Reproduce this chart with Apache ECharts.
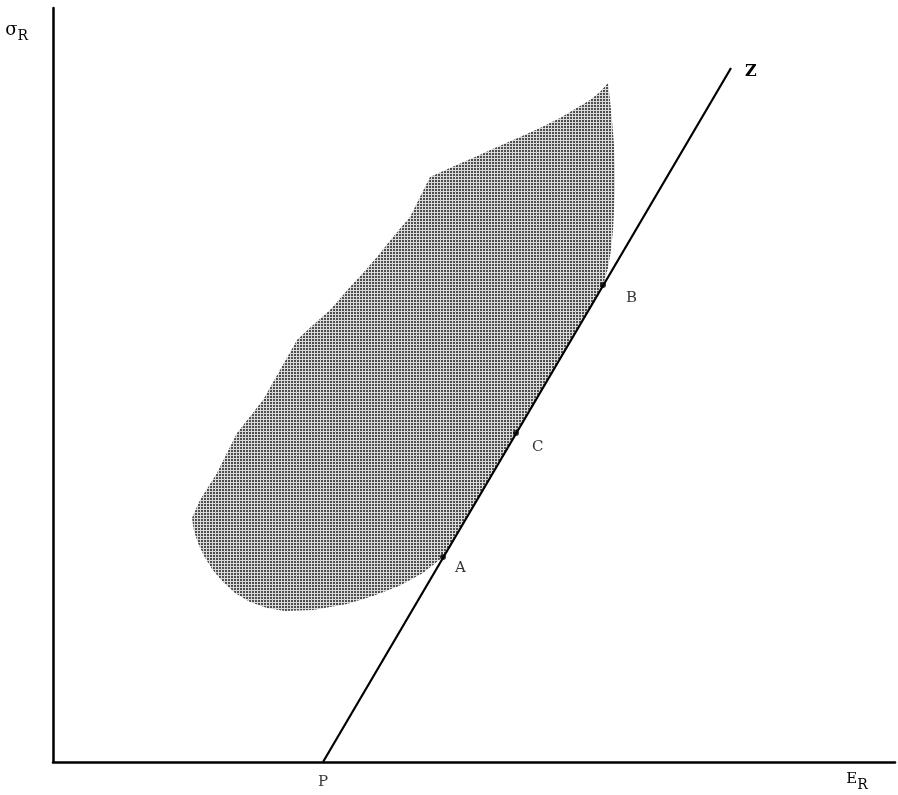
<!DOCTYPE html>
<html>
<head>
<meta charset="utf-8">
<script src="https://cdn.jsdelivr.net/npm/echarts@6/dist/echarts.min.js"></script>
<style>
  html, body { margin: 0; padding: 0; background: #fff; }
  #chart { width: 898px; height: 795px; }
</style>
</head>
<body>
<div id="chart"></div>
<script>
// feasible region outline (E_R, sigma_R), going round from A via B
var regionX = [39.0, 55.0, 55.5, 55.8, 56.0, 56.1, 56.2, 56.2, 56.1, 55.9, 55.7, 55.5,
	54.7, 53.7, 52.2, 50.7, 48.7, 46.7, 44.4, 42.2, 39.9, 37.7,
	36.7, 35.7, 34.0, 32.4, 31.0, 29.7, 27.7, 26.0, 24.4, 22.7, 21.0, 18.4, 16.4, 14.7, 13.9,
	14.1, 14.5, 15.1, 15.9, 16.9, 18.2, 19.7, 21.4, 23.2, 26.0, 29.4, 32.0, 34.6, 37.0];
var regionY = [20.5, 47.7, 49.4, 51.2, 53.2, 55.2, 57.2, 59.2, 61.7, 64.2, 66.2, 67.9,
	67.0, 66.2, 65.3, 64.4, 63.4, 62.5, 61.5, 60.5, 59.5, 58.5,
	56.5, 54.5, 52.5, 50.5, 48.9, 47.5, 45.2, 43.7, 42.2, 39.2, 36.2, 32.9, 28.9, 26.2, 24.4,
	23.1, 21.9, 20.6, 19.3, 18.1, 16.9, 16.0, 15.4, 15.1, 15.2, 15.8, 16.6, 17.6, 18.9];

// line PZ
var lineX = [27.0, 67.8];
var lineY = [0, 69.4];

// marked points on the line
var pointNames = ['A', 'C', 'B'];
var pointX = [39.0, 46.3, 55.0];
var pointY = [20.5, 32.9, 47.7];

var xMax = 84.2;
var yMax = 75.4;

var font = '"DejaVu Serif", "Liberation Serif", serif';

// halftone-like fill
function makeDots() {
	var c = document.createElement('canvas');
	c.width = 3; c.height = 3;
	var ctx = c.getContext('2d');
	ctx.fillStyle = '#dadada';
	ctx.fillRect(0, 0, 3, 3);
	ctx.fillStyle = '#4e4e4e';
	ctx.fillRect(0, 0, 2, 2);
	return c;
}
var dots = makeDots();

var regionData = regionX.map(function (x, i) { return [x, regionY[i]]; });
var lineData = lineX.map(function (x, i) { return [x, lineY[i]]; });
var pointData = pointNames.map(function (n, i) { return { name: n, value: [pointX[i], pointY[i]] }; });

var labelOffsets = { A: [4, 11], C: [8, 14], B: [15, 13] };
pointData.forEach(function (d) {
	d.label = { offset: labelOffsets[d.name] };
});

var myChart = echarts.init(document.getElementById('chart'));
var option = {
	animation: false,
	grid: { left: 53, right: 3, top: 8, bottom: 33 },
	xAxis: {
		type: 'value', min: 0, max: xMax,
		name: '{s|E}{r|R}',
		nameLocation: 'end',
		nameGap: -38,
		nameTextStyle: {
			align: 'center', verticalAlign: 'top', padding: [4, 0, 0, 0],
			rich: {
				s: { fontFamily: font, fontSize: 15, color: '#000' },
				r: { fontFamily: font, fontSize: 14, color: '#000', padding: [12, 0, 0, 0] }
			}
		},
		axisLine: { show: true, onZero: false, lineStyle: { color: '#000', width: 2.5 } },
		axisTick: { show: false },
		axisLabel: { show: false },
		splitLine: { show: false }
	},
	yAxis: {
		type: 'value', min: 0, max: yMax,
		name: '{s|σ}{r|R}',
		nameLocation: 'end',
		nameGap: -22,
		nameTextStyle: {
			align: 'right', verticalAlign: 'middle', padding: [0, 25, 0, 0],
			rich: {
				s: { fontFamily: font, fontSize: 18, color: '#000' },
				r: { fontFamily: font, fontSize: 14, color: '#000', padding: [12, 0, 0, 0] }
			}
		},
		axisLine: { show: true, onZero: false, lineStyle: { color: '#000', width: 2.5 } },
		axisTick: { show: false },
		axisLabel: { show: false },
		splitLine: { show: false }
	},
	series: [
		{
			type: 'custom',
			silent: true,
			data: regionData,
			renderItem: function (params, api) {
				if (params.dataIndex !== 0) return;
				var pts = regionData.map(function (p) { return api.coord(p); });
				return {
					type: 'polygon',
					shape: { points: pts },
					style: { fill: { image: dots, repeat: 'repeat' }, stroke: null }
				};
			},
			z: 1
		},
		{
			type: 'line',
			data: lineData,
			symbol: 'none',
			lineStyle: { color: '#000', width: 2.2 },
			z: 2,
			endLabel: {
				show: true,
				formatter: 'Z',
				fontFamily: font, fontSize: 16, fontWeight: 'bold', color: '#000',
				offset: [6, 4]
			}
		},
		{
			type: 'scatter',
			data: pointData,
			symbol: 'circle',
			symbolSize: 6,
			itemStyle: { color: '#000' },
			z: 3,
			label: {
				show: true,
				position: 'right',
				formatter: '{b}',
				fontFamily: font, fontSize: 15, color: '#000'
			}
		},
		{
			type: 'scatter',
			data: [{ name: 'P', value: [lineX[0], lineY[0]] }],
			symbolSize: 0,
			z: 3,
			label: {
				show: true,
				position: 'bottom',
				distance: 13,
				formatter: '{b}',
				fontFamily: font, fontSize: 15, color: '#000'
			}
		}
	]
};
myChart.setOption(option);
</script>
</body>
</html>
